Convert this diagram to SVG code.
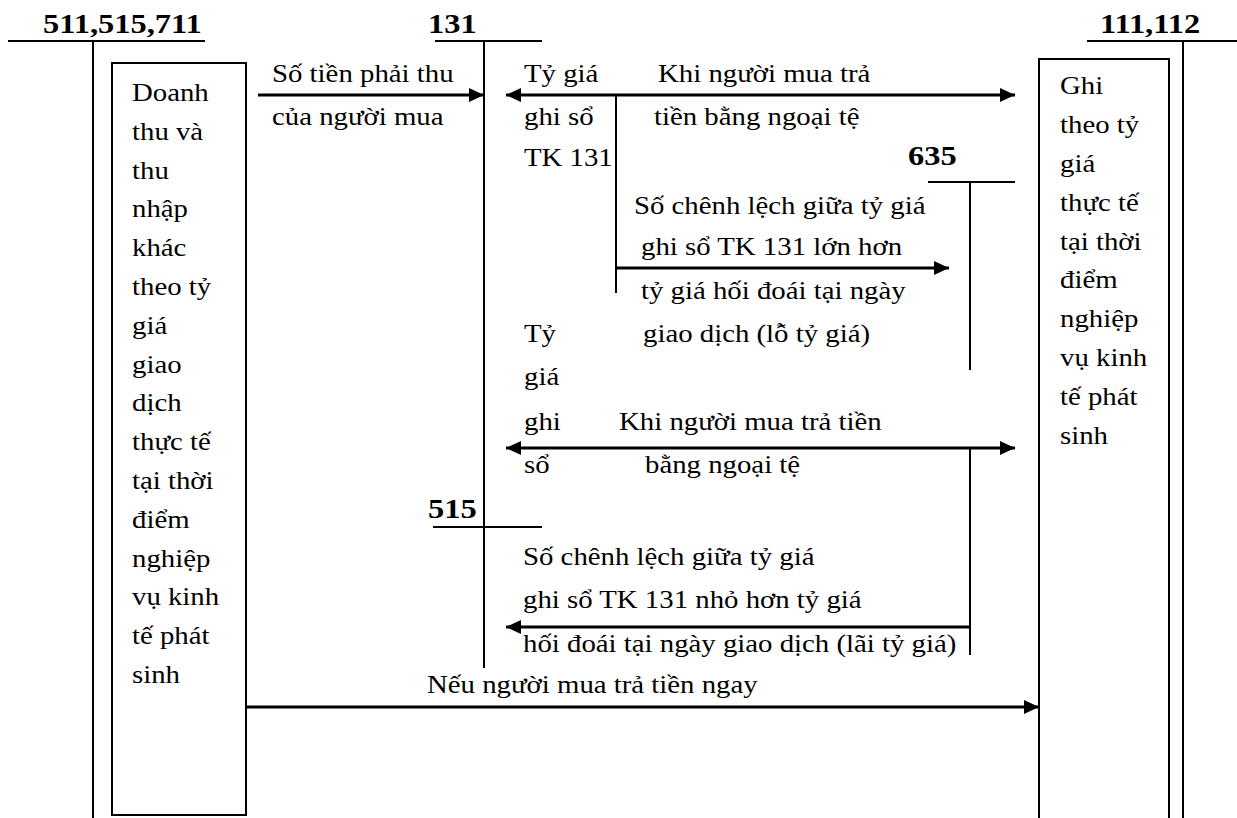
<svg xmlns="http://www.w3.org/2000/svg" width="1237" height="818" viewBox="0 0 1237 818">
<style>
text{font-family:"Liberation Serif","Times New Roman",serif;fill:#000;transform-box:fill-box;transform-origin:0 0}
.t{font-size:25.5px;transform:scaleX(1.13)}
.h{font-size:28px;font-weight:bold;transform:scaleX(1.16)}
.ln{stroke:#000;stroke-width:2;fill:none}
.ar{stroke:#000;stroke-width:3;fill:none}
.bx{stroke:#000;stroke-width:2;fill:#fff}
</style>
<defs>
<marker id="ah" markerUnits="userSpaceOnUse" markerWidth="16" markerHeight="14" refX="15" refY="7" orient="auto-start-reverse" viewBox="0 0 16 14">
<path d="M0,0 L15,7 L0,14 z" fill="#000"/>
</marker>
</defs>
<rect width="1237" height="818" fill="#fff"/>

<g id="acc-511">
<line class="ln" x1="8" y1="41" x2="205" y2="41"/>
<line class="ln" x1="93" y1="41" x2="93" y2="818"/>
<text class="h" x="43" y="33">511,515,711</text>
</g>

<g id="acc-131">
<line class="ln" x1="435" y1="41" x2="542" y2="41"/>
<line class="ln" x1="484" y1="41" x2="484" y2="668"/>
<text class="h" x="428" y="33">131</text>
</g>

<g id="acc-111">
<line class="ln" x1="1087" y1="41" x2="1237" y2="41"/>
<line class="ln" x1="1183" y1="41" x2="1183" y2="818"/>
<text class="h" x="1100" y="33">111,112</text>
</g>

<g id="acc-635">
<line class="ln" x1="928" y1="182" x2="1015" y2="182"/>
<line class="ln" x1="970" y1="182" x2="970" y2="370"/>
<text class="h" x="908" y="165">635</text>
</g>

<g id="acc-515">
<line class="ln" x1="433" y1="527" x2="542" y2="527"/>
<text class="h" x="428" y="518">515</text>
</g>

<g id="box-left">
<rect class="bx" x="112" y="63" width="134" height="752"/>
<text class="t" x="132" y="101">Doanh</text>
<text class="t" x="132" y="139.8">thu và</text>
<text class="t" x="132" y="178.6">thu</text>
<text class="t" x="132" y="217.4">nhập</text>
<text class="t" x="132" y="256.2">khác</text>
<text class="t" x="132" y="295">theo tỷ</text>
<text class="t" x="132" y="333.8">giá</text>
<text class="t" x="132" y="372.6">giao</text>
<text class="t" x="132" y="411.4">dịch</text>
<text class="t" x="132" y="450.2">thực tế</text>
<text class="t" x="132" y="489">tại thời</text>
<text class="t" x="132" y="527.8">điểm</text>
<text class="t" x="132" y="566.6">nghiệp</text>
<text class="t" x="132" y="605.4">vụ kinh</text>
<text class="t" x="132" y="644.2">tế phát</text>
<text class="t" x="132" y="683">sinh</text>
</g>

<g id="box-right">
<rect class="bx" x="1039" y="59" width="130" height="770"/>
<text class="t" x="1060" y="94.5">Ghi</text>
<text class="t" x="1060" y="133.3">theo tỷ</text>
<text class="t" x="1060" y="172.1">giá</text>
<text class="t" x="1060" y="210.9">thực tế</text>
<text class="t" x="1060" y="249.7">tại thời</text>
<text class="t" x="1060" y="288.5">điểm</text>
<text class="t" x="1060" y="327.3">nghiệp</text>
<text class="t" x="1060" y="366.1">vụ kinh</text>
<text class="t" x="1060" y="404.9">tế phát</text>
<text class="t" x="1060" y="443.7">sinh</text>
</g>

<g id="labels">
<text class="t" x="272" y="82">Số tiền phải thu</text>
<text class="t" x="272" y="125">của người mua</text>
<text class="t" x="524" y="82">Tỷ giá</text>
<text class="t" x="524" y="125">ghi sổ</text>
<text class="t" x="524" y="166">TK 131</text>
<text class="t" x="658" y="82">Khi người mua trả</text>
<text class="t" x="654" y="125">tiền bằng ngoại tệ</text>
<text class="t" x="634" y="214">Số chênh lệch giữa tỷ giá</text>
<text class="t" x="641" y="255">ghi sổ TK 131 lớn hơn</text>
<text class="t" x="641" y="299">tỷ giá hối đoái tại ngày</text>
<text class="t" x="643" y="342">giao dịch (lỗ tỷ giá)</text>
<text class="t" x="524" y="342">Tỷ</text>
<text class="t" x="524" y="385">giá</text>
<text class="t" x="524" y="430">ghi</text>
<text class="t" x="524" y="473">sổ</text>
<text class="t" x="619" y="430">Khi người mua trả tiền</text>
<text class="t" x="645" y="473">bằng ngoại tệ</text>
<text class="t" x="523" y="565">Số chênh lệch giữa tỷ giá</text>
<text class="t" x="523" y="608">ghi sổ TK 131 nhỏ hơn tỷ giá</text>
<text class="t" x="523" y="652">hối đoái tại ngày giao dịch (lãi tỷ giá)</text>
<text class="t" x="427" y="693">Nếu người mua trả tiền ngay</text>
</g>

<g id="connectors">
<line class="ar" x1="258" y1="95" x2="484" y2="95" marker-end="url(#ah)"/>
<line class="ar" x1="506" y1="95" x2="1015" y2="95" marker-start="url(#ah)" marker-end="url(#ah)"/>
<line class="ln" x1="616" y1="95" x2="616" y2="293"/>
<line class="ar" x1="616" y1="268" x2="949" y2="268" marker-end="url(#ah)"/>
<line class="ar" x1="506" y1="448" x2="1015" y2="448" marker-start="url(#ah)" marker-end="url(#ah)"/>
<line class="ln" x1="970" y1="448" x2="970" y2="655"/>
<line class="ar" x1="970" y1="627" x2="506" y2="627" marker-end="url(#ah)"/>
<line class="ar" x1="246" y1="707" x2="1039" y2="707" marker-end="url(#ah)"/>
</g>
</svg>
